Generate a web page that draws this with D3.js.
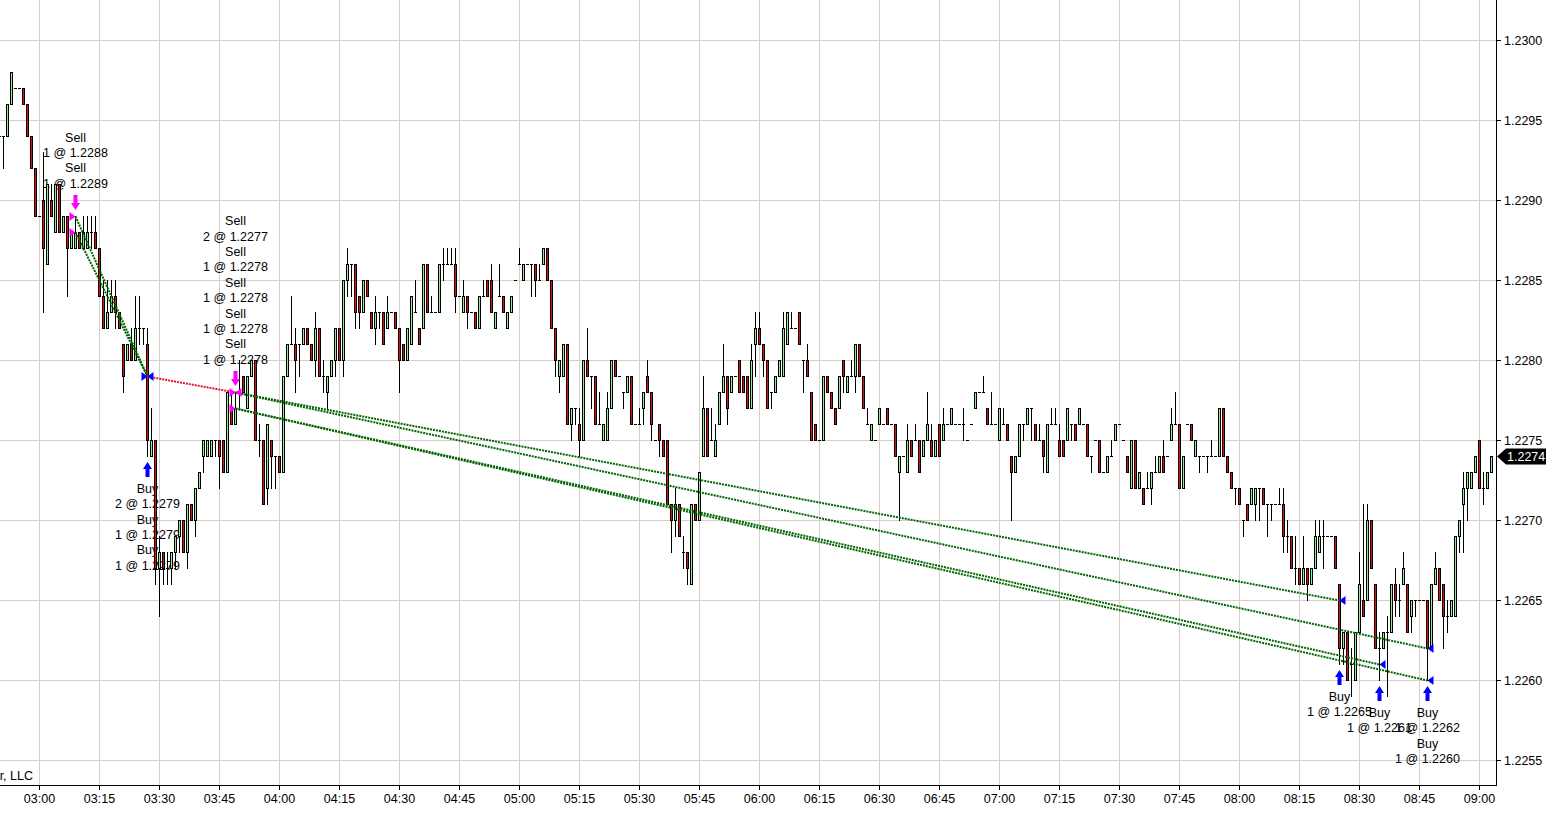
<!DOCTYPE html>
<html>
<head>
<meta charset="utf-8">
<script src="https://cdn.jsdelivr.net/npm/d3@7"></script>
<style>
  html, body { margin: 0; padding: 0; background: #fff; }
  svg { display: block; font-family: "Liberation Sans", Arial, sans-serif; font-size: 12.5px; }
</style>
</head>
<body>
<svg id="chart" width="1552" height="815"></svg>
<script>
// one bar per minute starting at firstBar, quotes in pips above 1.2200: [open, high, low, close]
const firstBar = '02:50';
const pipBase = 1.22;
const pip = 0.0001;
const bars = [
  [94,94,93,94],[94,94,92,94],[94,96,94,96],[96,98,96,98],[97,97,97,97],[97,97,97,97],[97,97,96,96],[96,96,94,94],[94,94,92,92],[92,92,89,89],
  [89,89,89,89],[90,93,83,87],[86,91,86,91],[90,91,89,89],[88,91,88,91],[91,91,88,88],[88,89,88,89],[89,89,84,87],[87,88,87,88],[87,89,87,88],
  [88,88,87,87],[87,89,87,88],[87,89,87,88],[88,89,87,88],[88,89,87,87],[87,87,84,84],[84,85,82,82],[82,85,82,83],[83,85,83,84],[84,85,82,83],
  [83,83,82,82],[81,81,78,79],[80,81,80,81],[81,82,80,80],[80,84,80,82],[82,84,81,82],[82,82,81,82],[81,82,74,75],[74,77,74,75],[75,75,66,67],
  [67,69,64,68],[68,68,66,67],[67,68,66,67],[67,68,66,68],[68,69,67,69],[69,70,68,70],[70,70,68,68],[68,71,67,71],[71,71,70,70],[70,72,69,72],
  [72,73,72,73],[74,75,73,75],[74,75,74,75],[74,75,74,75],[75,75,74,75],[75,75,72,74],[75,75,73,73],[73,78,73,78],[77,78,76,76],[76,78,76,77],
  [78,80,77,78],[79,79,78,78],[77,79,77,79],[79,80,79,80],[80,80,75,75],[75,76,74,75],[75,75,71,71],[72,76,71,76],[75,75,72,74],[74,74,72,74],
  [74,74,73,73],[73,79,73,79],[79,81,79,81],[81,84,81,81],[81,82,78,80],[81,81,79,81],[81,82,81,82],[82,82,81,81],[81,81,80,80],[80,83,79,82],
  [82,82,79,79],[79,80,78,79],[78,79,77,79],[79,80,79,80],[80,82,79,82],[82,82,80,80],[80,85,79,85],[85,87,84,86],[86,86,84,86],[86,86,82,83],
  [84,84,82,83],[83,85,83,85],[85,85,84,84],[83,83,82,82],[82,84,81,83],[83,83,82,83],[83,83,81,81],[82,84,82,83],[83,83,83,83],[83,83,82,82],
  [82,82,78,80],[81,81,80,80],[80,82,80,82],[81,84,81,84],[83,85,83,83],[82,82,81,81],[82,86,82,86],[86,86,83,83],[83,84,83,83],[83,83,83,83],
  [83,86,83,86],[86,87,85,86],[86,87,86,86],[86,87,86,86],[86,87,83,84],[84,84,84,84],[83,85,83,84],[84,84,82,83],[83,83,83,83],[83,83,82,82],
  [82,84,82,84],[84,85,84,84],[85,85,84,84],[85,86,83,83],[82,83,82,83],[84,86,84,84],[84,84,83,83],[82,83,82,83],[83,84,83,84],[85,85,85,85],
  [86,87,86,86],[85,86,85,86],[86,86,86,86],[86,86,84,86],[86,86,84,85],[85,86,85,85],[86,87,86,87],[87,87,85,85],[85,85,82,82],[82,82,79,80],
  [79,80,78,80],[79,81,79,81],[81,81,76,76],[76,77,75,77],[77,77,76,77],[76,77,74,75],[75,80,75,80],[80,82,79,79],[79,79,77,79],[79,79,76,76],
  [76,78,76,76],[75,76,75,76],[75,78,75,77],[77,80,77,80],[80,80,79,79],[79,79,79,79],[78,78,77,78],[78,79,78,79],[79,79,76,76],[76,76,76,76],
  [76,77,76,76],[77,78,76,78],[79,80,78,78],[78,78,75,76],[75,75,75,75],[76,76,74,75],[75,75,74,74],[75,75,71,71],[71,71,68,70],[70,72,69,71],
  [71,71,69,69],[68,69,67,68],[68,68,66,67],[66,71,66,71],[71,71,70,70],[70,73,70,73],[74,79,74,77],[77,77,74,74],[75,77,75,75],[74,76,74,75],
  [76,78,76,78],[78,81,78,79],[79,79,76,77],[78,79,78,79],[79,79,79,79],[80,80,78,78],[79,79,78,78],[79,79,77,77],[77,81,77,80],[81,83,79,82],
  [82,83,81,81],[81,81,79,80],[80,80,77,77],[78,78,77,78],[78,79,78,79],[79,80,79,80],[79,83,79,82],[81,83,81,83],[82,83,82,82],[82,82,82,82],
  [83,83,81,81],[80,80,78,80],[80,81,79,79],[78,78,75,75],[76,76,75,75],[75,75,75,75],[75,79,75,79],[79,79,78,78],[78,78,77,77],[77,77,76,76],
  [77,79,77,79],[80,80,78,79],[78,79,78,79],[79,80,79,79],[79,81,78,81],[81,81,79,79],[79,79,77,77],[76,77,76,76],[75,76,75,76],[75,75,75,75],
  [76,77,76,77],[76,76,76,76],[77,77,76,76],[76,76,76,76],[76,76,74,74],[73,74,70,74],[74,74,74,74],[73,76,73,75],[75,75,74,74],[75,76,75,75],
  [75,75,73,73],[74,75,74,75],[75,78,75,76],[75,76,74,74],[74,75,74,75],[76,76,74,74],[75,77,75,76],[76,76,76,76],[76,77,76,77],[76,76,76,76],
  [76,76,76,76],[76,77,75,76],[75,75,75,75],[76,76,76,76],[77,78,77,78],[78,78,78,78],[78,79,78,78],[77,77,76,76],[76,78,76,76],[76,76,76,76],
  [75,77,75,77],[76,77,76,76],[76,76,75,75],[74,74,70,73],[73,74,73,74],[74,76,74,76],[76,76,75,76],[76,77,76,77],[77,77,75,77],[76,76,75,75],
  [75,76,75,75],[75,75,73,74],[73,76,73,76],[76,77,76,76],[76,77,76,76],[75,76,74,74],[75,75,74,74],[75,77,75,77],[76,76,75,76],[76,76,75,75],
  [76,77,76,77],[76,76,76,76],[76,76,74,74],[74,74,73,74],[75,75,75,75],[75,75,73,73],[73,73,73,73],[73,74,73,74],[74,75,74,74],[75,76,75,76],
  [76,76,76,76],[75,75,75,75],[74,74,73,73],[72,75,72,75],[75,75,72,72],[72,73,72,73],[72,72,71,71],[72,73,72,72],[72,73,71,73],[73,74,73,73],
  [73,74,73,74],[74,75,73,73],[74,74,74,74],[75,77,75,76],[76,78,76,76],[76,76,72,72],[72,74,72,74],[76,76,76,76],[76,76,75,75],[74,75,74,75],
  [74,74,73,74],[74,74,74,74],[74,74,73,74],[74,75,74,74],[74,74,74,74],[74,77,74,77],[77,77,74,74],[74,74,73,73],[73,73,72,72],[72,72,71,72],
  [72,72,71,71],[70,70,69,70],[71,71,70,70],[71,72,71,72],[71,72,70,72],[72,72,70,72],[72,72,71,71],[71,71,69,71],[71,71,70,71],[71,71,71,71],
  [71,72,71,71],[71,72,68,69],[69,70,68,69],[69,69,67,67],[67,69,66,67],[67,67,66,66],[66,69,66,67],[67,67,65,66],[66,67,66,67],[67,70,67,69],
  [68,70,68,69],[69,70,67,69],[69,69,69,69],[69,69,69,69],[69,69,67,67],[66,66,61,62],[62,63,61,63],[63,63,60,60],[61,62,59,61],[60,63,60,63],
  [63,68,63,66],[65,71,64,64],[65,71,65,70],[70,70,67,67],[66,66,62,62],[62,63,60,62],[62,63,62,63],[63,64,59,63],[63,66,63,66],[66,67,64,65],
  [65,66,64,65],[66,68,66,67],[66,66,63,63],[64,65,63,65],[65,65,64,65],[65,65,65,65],[65,65,65,65],[65,65,60,62],[62,66,62,66],[66,68,66,67],
  [67,67,65,65],[66,66,62,64],[64,65,63,64],[64,65,64,65],[64,69,64,69],[69,70,68,70],[71,73,68,72],[72,73,70,73],[72,73,72,73],[73,74,73,74],
  [75,75,72,72],[72,73,71,72],[72,73,72,73],[73,74,73,74]
];

const priceTicks = [1.2300, 1.2295, 1.2290, 1.2285, 1.2280, 1.2275, 1.2270, 1.2265, 1.2260, 1.2255];
const timeTicks = ['03:00','03:15','03:30','03:45','04:00','04:15','04:30','04:45','05:00','05:15','05:30','05:45',
  '06:00','06:15','06:30','06:45','07:00','07:15','07:30','07:45','08:00','08:15','08:30','08:45','09:00'];
const lastPrice = 1.2274;

// executions: time, price, side of the bar the triangle sits on
const fills = [
  { time: '03:09', price: 1.2289, side: 'in',  action: 'Sell' },
  { time: '03:09', price: 1.2288, side: 'in',  action: 'Sell' },
  { time: '03:27', price: 1.2279, side: 'in',  action: 'Buy' },
  { time: '03:27', price: 1.2279, side: 'out', action: 'Buy' },
  { time: '03:49', price: 1.2278, side: 'in',  action: 'Sell' },
  { time: '03:49', price: 1.2278, side: 'out', action: 'Sell' },
  { time: '03:49', price: 1.2277, side: 'in',  action: 'Sell' },
  { time: '08:25', price: 1.2265, side: 'out', action: 'Buy' },
  { time: '08:35', price: 1.2261, side: 'out', action: 'Buy' },
  { time: '08:47', price: 1.2262, side: 'out', action: 'Buy' },
  { time: '08:47', price: 1.2260, side: 'out', action: 'Buy' }
];

// entry -> exit connectors
const trades = [
  { from: ['03:09', 1.2289], to: ['03:27', 1.2279], win: true },
  { from: ['03:09', 1.2288], to: ['03:27', 1.2279], win: true },
  { from: ['03:27', 1.2279], to: ['03:49', 1.2278], win: false },
  { from: ['03:49', 1.2278], to: ['08:25', 1.2265], win: true },
  { from: ['03:49', 1.2278], to: ['08:47', 1.2262], win: true },
  { from: ['03:49', 1.2277], to: ['08:35', 1.2261], win: true },
  { from: ['03:49', 1.2277], to: ['08:47', 1.2260], win: true }
];

// arrows with their stacked order texts
const signals = [
  { time: '03:09', action: 'Sell', lines: ['Sell', '1 @ 1.2288', 'Sell', '1 @ 1.2289'] },
  { time: '03:27', action: 'Buy',  lines: ['Buy', '2 @ 1.2279', 'Buy', '1 @ 1.2279', 'Buy', '1 @ 1.2279'] },
  { time: '03:49', action: 'Sell', lines: ['Sell', '2 @ 1.2277', 'Sell', '1 @ 1.2278', 'Sell', '1 @ 1.2278', 'Sell', '1 @ 1.2278', 'Sell', '1 @ 1.2278'] },
  { time: '08:25', action: 'Buy',  lines: ['Buy', '1 @ 1.2265'] },
  { time: '08:35', action: 'Buy',  lines: ['Buy', '1 @ 1.2261'] },
  { time: '08:47', action: 'Buy',  lines: ['Buy', '1 @ 1.2262', 'Buy', '1 @ 1.2260'] }
];

const W = 1552, H = 815;
const plotRight = 1496, plotBottom = 785;
const fontFamily = '"Liberation Sans", Arial, sans-serif';
const gridColor = '#d4d0c8';
const upColor = '#90ee90', downColor = '#e01010';
const buyColor = '#0000ff', sellColor = '#ff00ff';
const lineH = 15.4;

const parseTime = d3.timeParse('%H:%M');
const t0 = parseTime(firstBar);

const data = bars.map((b, i) => ({
  t: d3.timeMinute.offset(t0, i),
  o: pipBase + b[0] * pip,
  h: pipBase + b[1] * pip,
  l: pipBase + b[2] * pip,
  c: pipBase + b[3] * pip
}));
const byTime = new Map(data.map(d => [d3.timeFormat('%H:%M')(d.t), d]));

const x = d3.scaleTime()
  .domain([d3.timeSecond.offset(t0, 15), d3.timeSecond.offset(t0, 15 + bars.length * 60)])
  .range([0, plotRight]);
const y = d3.scaleLinear().domain([1.2255, 1.2300]).range([760, 40]);

const px = t => Math.round(x(typeof t === 'string' ? parseTime(t) : t));
const py = v => Math.round(y(v));

const svg = d3.select('#chart');
svg.append('rect').attr('width', W).attr('height', H).attr('fill', '#fff');

const plot = svg.append('g');
plot.append('clipPath').attr('id', 'clip')
  .append('rect').attr('width', plotRight).attr('height', plotBottom);
const inner = plot.append('g').attr('clip-path', 'url(#clip)');

// grid
inner.append('g').selectAll('line')
  .data(timeTicks)
  .join('line')
  .attr('x1', d => px(d) + 0.5).attr('x2', d => px(d) + 0.5)
  .attr('y1', 0).attr('y2', plotBottom)
  .attr('stroke', gridColor);
inner.append('g').selectAll('line')
  .data(priceTicks)
  .join('line')
  .attr('x1', 0).attr('x2', plotRight)
  .attr('y1', d => py(d) + 0.5).attr('y2', d => py(d) + 0.5)
  .attr('stroke', gridColor);

// copyright remainder at the lower left
inner.append('text')
  .attr('x', 33).attr('y', 776).attr('dy', '0.35em')
  .attr('text-anchor', 'end')
  .text('\u00a9 2009 NinjaTrader, LLC');

// order texts (drawn under the bars)
const arrowGap = 6, arrowLen = 15, textGap = 11.5;
const labelG = inner.append('g');
signals.forEach(s => {
  const bar = byTime.get(s.time);
  const cx = px(s.time) + 0.5;
  const n = s.lines.length;
  s.lines.forEach((txt, i) => {
    const cy = s.action === 'Sell'
      ? py(bar.h) - arrowGap - arrowLen - textGap - (n - 1 - i) * lineH
      : py(bar.l) + arrowGap + arrowLen + textGap + i * lineH;
    labelG.append('text')
      .attr('x', cx).attr('y', cy).attr('dy', '0.35em')
      .attr('text-anchor', 'middle')
      .text(txt);
  });
});

// candles
const candles = inner.append('g').selectAll('g')
  .data(data)
  .join('g');

candles.append('line')
  .attr('x1', d => px(d.t) + 0.5).attr('x2', d => px(d.t) + 0.5)
  .attr('y1', d => py(d.h)).attr('y2', d => py(d.l) + 1)
  .attr('stroke', '#000');

candles.filter(d => py(d.o) === py(d.c))
  .append('line')
  .attr('x1', d => px(d.t) - 1).attr('x2', d => px(d.t) + 2)
  .attr('y1', d => py(d.c) + 0.5).attr('y2', d => py(d.c) + 0.5)
  .attr('stroke', '#000');

candles.filter(d => py(d.o) !== py(d.c))
  .append('rect')
  .attr('x', d => px(d.t) - 0.5)
  .attr('y', d => Math.min(py(d.o), py(d.c)) + 0.5)
  .attr('width', 2)
  .attr('height', d => Math.abs(py(d.o) - py(d.c)))
  .attr('fill', d => d.c > d.o ? upColor : downColor)
  .attr('stroke', '#000');

// trade connectors
inner.append('g').selectAll('line')
  .data(trades)
  .join('line')
  .attr('x1', d => px(d.from[0]) + 0.5).attr('y1', d => py(d.from[1]) + 0.5)
  .attr('x2', d => px(d.to[0]) + 0.5).attr('y2', d => py(d.to[1]) + 0.5)
  .attr('stroke', d => d.win ? '#006400' : 'crimson')
  .attr('stroke-width', 2)
  .attr('stroke-dasharray', '2,1');

// execution triangles
inner.append('g').selectAll('path')
  .data(fills)
  .join('path')
  .attr('d', d => {
    const cx = px(d.time) + 0.5, cy = py(d.price) + 0.5;
    return d.side === 'in'
      ? `M${cx - 6},${cy - 4.5}L${cx},${cy}L${cx - 6},${cy + 4.5}Z`
      : `M${cx + 6},${cy - 4.5}L${cx},${cy}L${cx + 6},${cy + 4.5}Z`;
  })
  .attr('fill', d => d.action === 'Buy' ? buyColor : sellColor);

// signal arrows
inner.append('g').selectAll('path')
  .data(signals)
  .join('path')
  .attr('d', s => {
    const bar = byTime.get(s.time);
    const cx = px(s.time) + 0.5;
    if (s.action === 'Buy') {
      const top = py(bar.l) + arrowGap;
      return `M${cx},${top}L${cx + 4.5},${top + 7}L${cx + 2},${top + 7}L${cx + 2},${top + arrowLen}` +
        `L${cx - 2},${top + arrowLen}L${cx - 2},${top + 7}L${cx - 4.5},${top + 7}Z`;
    }
    const tip = py(bar.h) - arrowGap;
    return `M${cx},${tip}L${cx + 4.5},${tip - 7}L${cx + 2},${tip - 7}L${cx + 2},${tip - arrowLen}` +
      `L${cx - 2},${tip - arrowLen}L${cx - 2},${tip - 7}L${cx - 4.5},${tip - 7}Z`;
  })
  .attr('fill', s => s.action === 'Buy' ? buyColor : sellColor);

// axes
const xAxis = d3.axisBottom(x)
  .tickValues(timeTicks.map(parseTime))
  .tickFormat(d3.timeFormat('%H:%M'))
  .tickSize(5).tickSizeOuter(0).tickPadding(4)
  .offset(0.5);
const gx = svg.append('g').attr('transform', `translate(0,${plotBottom})`).call(xAxis);
gx.select('.domain').remove();
gx.selectAll('text').attr('font-size', 12.5).attr('font-family', fontFamily).attr('fill', '#000');
gx.selectAll('line').attr('stroke', '#000');
gx.selectAll('.tick').attr('transform', d => `translate(${px(d) + 0.5},0)`);

const yAxis = d3.axisRight(y)
  .tickValues(priceTicks)
  .tickFormat(d3.format('.4f'))
  .tickSize(5).tickPadding(3);
const gy = svg.append('g').attr('transform', `translate(${plotRight},0)`).call(yAxis);
gy.select('.domain').remove();
gy.selectAll('text').attr('font-size', 12.5).attr('font-family', fontFamily).attr('fill', '#000');
gy.selectAll('line').attr('stroke', '#000');
gy.selectAll('.tick').attr('transform', d => `translate(0,${py(d) + 0.5})`);

svg.append('line')
  .attr('x1', plotRight + 0.5).attr('x2', plotRight + 0.5)
  .attr('y1', 0).attr('y2', plotBottom + 1)
  .attr('stroke', '#000');
svg.append('line')
  .attr('x1', 0).attr('x2', plotRight + 1)
  .attr('y1', plotBottom + 0.5).attr('y2', plotBottom + 0.5)
  .attr('stroke', '#000');

// last price marker
const ly = py(lastPrice) + 0.5;
svg.append('path')
  .attr('d', `M${plotRight + 1},${ly}L${plotRight + 10},${ly - 8}L${plotRight + 50},${ly - 8}L${plotRight + 50},${ly + 8}L${plotRight + 10},${ly + 8}Z`)
  .attr('fill', '#000');
svg.append('text')
  .attr('x', plotRight + 11).attr('y', ly).attr('dy', '0.35em')
  .attr('fill', '#fff')
  .text(d3.format('.4f')(lastPrice));
</script>
</body>
</html>
